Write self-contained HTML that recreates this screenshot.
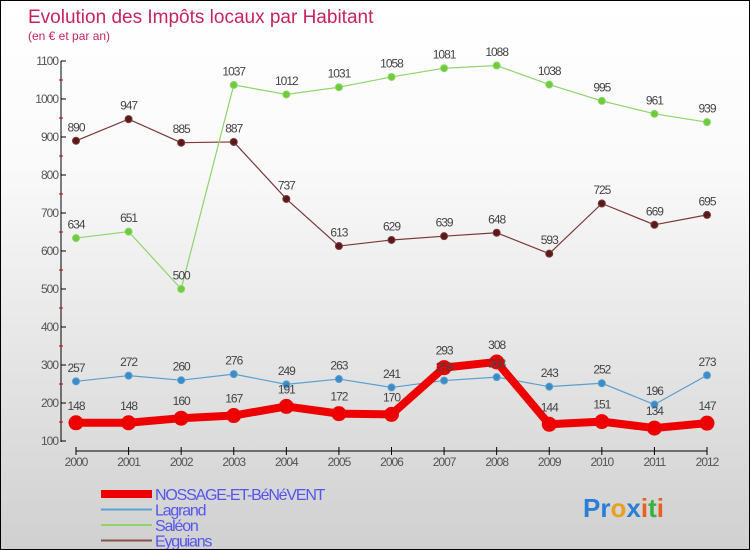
<!DOCTYPE html>
<html><head><meta charset="utf-8"><style>
body{margin:0}
#c{width:750px;height:550px;position:relative;overflow:hidden;background:linear-gradient(#fff,#fafafa 30%,#d0d0d0);border:1px solid #000;box-sizing:border-box;font-family:"Liberation Sans",sans-serif}
text{font-family:"Liberation Sans",sans-serif}
</style></head><body>
<div id="c">
<svg id="s" width="750" height="550"></svg>
</div>
<script>
const years=["2000","2001","2002","2003","2004","2005","2006","2007","2008","2009","2010","2011","2012"];
const nossage=[148,148,160,167,191,172,170,293,308,144,151,134,147];
const lagrand=[257,272,260,276,249,263,241,259,268,243,252,196,273];
const saleon=[634,651,500,1037,1012,1031,1058,1081,1088,1038,995,961,939];
const eyguians=[890,947,885,887,737,613,629,639,648,593,725,669,695];
const yTicks=[100,200,300,400,500,600,700,800,900,1000,1100];
const NS="http://www.w3.org/2000/svg";
const s=document.getElementById('s');
const X=i=>75+i*(706-75)/12;
const Y=v=>440-(v-100)*0.38;
function el(t,a,p){const e=document.createElementNS(NS,t);for(const k in a)e.setAttribute(k,a[k]);(p||s).appendChild(e);return e;}
let t=el('text',{x:27,y:22,fill:'#c8245c','font-size':19});t.textContent='Evolution des Impôts locaux par Habitant';

t=el('text',{x:27,y:39,fill:'#c8245c','font-size':12});t.textContent='(en € et par an)';

let a=el('line',{x1:60,y1:60,x2:60,y2:441,stroke:'#000'});

yTicks.forEach((v,i)=>{el('line',{x1:60,y1:Y(v),x2:65,y2:Y(v),stroke:'#000'});
 if(i<yTicks.length-1)el('line',{x1:58,y1:Y(v+50),x2:62,y2:Y(v+50),stroke:'#c00'});
 const tt=el('text',{x:57,y:Y(v)+4,'text-anchor':'end','font-size':12,fill:'#555','letter-spacing':-1});tt.textContent=v;
 });
a=el('line',{x1:75,y1:450,x2:706,y2:450,stroke:'#000'});

years.forEach((y,i)=>{el('line',{x1:X(i),y1:446,x2:X(i),y2:454,stroke:'#000'});
 const tt=el('text',{x:X(i),y:465,'text-anchor':'middle','font-size':12,fill:'#555','letter-spacing':-1});tt.textContent=y;
 });
const labels=[];
function series(d,col,w,r,name,dot){
 const g=el('g',{});
 el('polyline',{points:d.map((v,i)=>X(i)+','+Y(v)).join(' '),fill:'none',stroke:col,'stroke-width':w,'stroke-linejoin':'round'},g);
 d.forEach((v,i)=>{const c=el('circle',{cx:X(i),cy:Y(v),r:r,fill:dot,stroke:col,'stroke-width':1},g);
  
  labels.push([X(i),Y(v)-(r+6),v,name]);});
}
series(eyguians,'#7a3838',1.2,3.5,'eyguians','#5a1a1a');
series(saleon,'#8fd46a',1.2,3.5,'saleon','#6ccc3a');
series(lagrand,'#5b9fd0',1.2,3.5,'lagrand','#3a8cc8');
series(nossage,'#ee0000',8,7,'nossage','#ee0000');
labels.forEach(l=>{const tt=el('text',{x:l[0],y:l[1],'text-anchor':'middle','font-size':12,fill:'#444','letter-spacing':-1});tt.textContent=l[2];
 });
const leg=[['NOSSAGE-ET-BéNéVENT','#ee0000',8],['Lagrand','#5b9fd0',2],['Saléon','#8fd46a',2],['Eyguians','#8a5050',2]];
leg.forEach((l,i)=>{const y=493+i*15.5;const g=el('g',{});
 el('line',{x1:100,y1:y,x2:151,y2:y,stroke:l[1],'stroke-width':l[2]},g);
 const tt=el('text',{x:154,y:y+6,'font-size':16,fill:'#5555ee','letter-spacing':-1.2},g);tt.textContent=l[0];});
const lg=el('text',{x:582,y:516,'font-size':26,'font-weight':'bold'});
[['P','#2a7fd4'],['r','#2a7fd4'],['o','#e8a020'],['x','#2a7fd4'],['i','#e86020'],['t','#3ab040'],['i','#e86020']].forEach(p=>{const ts=el('tspan',{fill:p[1]},lg);ts.textContent=p[0];});
</script>
</body></html>
